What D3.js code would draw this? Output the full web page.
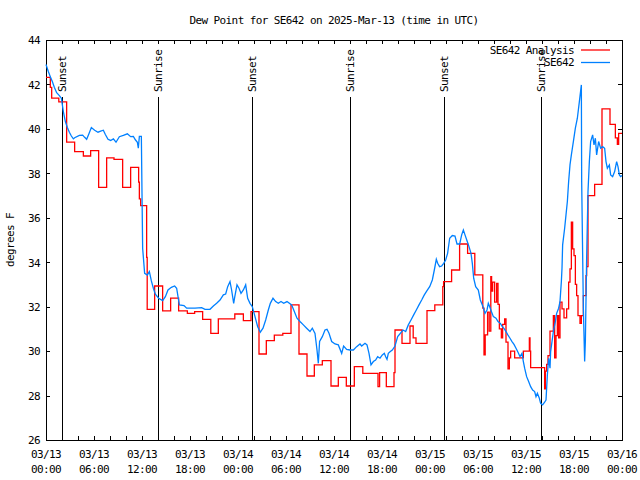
<!DOCTYPE html>
<html>
<head>
<meta charset="utf-8">
<script src="https://cdn.jsdelivr.net/npm/d3@7"></script>
<style>
  html, body { margin: 0; padding: 0; background: #fff; }
  svg text { font-family: "DejaVu Sans Mono", "Liberation Mono", monospace; font-size: 11px; letter-spacing: -0.6px; fill: #000; }
</style>
</head>
<body>
<svg id="chart" width="640" height="480"></svg>
<script>
// ---------------- data ----------------
const titleText = "Dew Point for SE642 on 2025-Mar-13 (time in UTC)";
const yLabelText = "degrees F";
const seriesNames = ["SE642 Analysis", "SE642"];
const startUTC = Date.UTC(2025, 2, 13, 0, 0);
const spanHours = 72;
const yTicks = [26, 28, 30, 32, 34, 36, 38, 40, 42, 44];

// SE642 Analysis (step series): hours since 03/13 00:00, value in F
const redHours = [0, 0.54, 0.71, 1.6, 2.58, 3.58, 4.67, 5.58, 6.58, 7.58, 8.5, 9.58, 10.58, 11.58, 11.67, 11.83,
  12.58, 12.65, 13.58, 14.58, 15.58, 16.58, 17.67, 18.58, 19.58, 20.6, 21.54, 23.6, 24.67, 25.625, 26.625,
  27.54, 28.54, 29.6, 30.625, 31.625, 32.625, 33.54, 34.54, 35.625, 36.54, 37.54, 38.54, 39.6, 41.5, 41.7,
  42.54, 43.5, 43.625, 44.5, 45.5, 45.9, 46.25, 47.625, 48.6, 49.6, 49.7, 50.7, 51.7, 52.7, 53.6, 54.6,
  54.75, 54.9, 55.2, 55.4, 55.6, 55.7, 55.83, 56.08, 56.33, 56.5, 56.67, 56.92, 57.08, 57.33, 57.5, 57.75,
  57.92, 58.08, 58.58, 59.67, 60.42, 60.5, 60.58, 62.33, 62.42, 62.58, 62.75, 63.0, 63.42, 63.58, 63.75,
  63.92, 64.08, 64.25, 64.5, 64.75, 65.08, 65.33, 65.5, 65.67, 65.83, 66.0, 66.17, 66.33, 66.5, 66.75,
  66.92, 67.17, 67.5, 67.58, 67.75, 68.58, 69.5, 70.5, 71.17, 71.42, 71.58, 71.75, 72];
const redValues = [42.32, 41.87, 41.38, 41.22, 39.40, 38.98, 38.78, 39.02, 37.37, 38.70, 38.63, 37.37, 38.27, 37.6, 36.85, 36.55,
  34.22, 31.88, 32.93, 31.81, 32.38, 31.81, 31.7, 31.78, 31.43, 30.8, 31.45, 31.67, 31.37, 31.78, 29.87,
  30.47, 30.72, 30.8, 32.08, 29.87, 28.88, 29.38, 29.57, 28.43, 28.82, 28.43, 29.3, 29.0, 28.4, 29.03,
  28.4, 29.03, 30.95, 30.35, 31.13, 30.6, 30.35, 31.82, 32.08, 32.9, 33.13, 33.65, 34.82, 34.4, 33.43, 31.93,
  29.83, 30.73, 31.75, 30.9, 33.35, 32.7, 33.1, 32.2, 33.05, 32.1, 31.0, 30.6, 31.2, 31.45, 30.4, 29.2,
  29.7, 30.0, 29.7, 30.0, 30.6, 30.0, 29.26, 28.3, 29.1, 29.4, 29.8, 30.9, 31.6, 29.7,
  30.7, 31.6, 30.6, 32.2, 31.9, 31.5, 31.9, 33.1, 33.7, 35.8, 34.6, 34.3, 33.0, 32.5, 31.6,
  31.25, 31.6, 32.5, 33.4, 33.8, 37.0, 37.5, 40.9, 40.2, 39.6, 39.3, 39.8, 39.8];

// SE642 observations
const blueHours = [0, 0.29, 0.54, 0.79, 1.04, 1.33, 1.67, 1.92, 2.17, 2.42, 2.67, 2.92, 3.17, 3.42, 3.58, 4.17,
  4.58, 4.83, 5.08, 5.33, 5.67, 6.08, 6.5, 6.83, 7.17, 7.42, 7.75, 8.08, 8.42, 8.75, 9.17, 9.67, 10.17,
  10.58, 10.92, 11.17, 11.42, 11.54, 11.67, 11.92, 12.0, 12.08, 12.33, 12.67, 12.92, 13.17, 13.42, 13.67,
  14.08, 14.58, 14.92, 15.25, 15.67, 16.08, 16.33, 16.67, 17.25, 17.58, 18.63, 19.46, 19.875, 20.5,
  20.92, 21.33, 21.75, 22.17, 22.46, 22.71, 23.0, 23.2, 23.46, 23.6, 23.875, 24.125, 24.375, 24.67, 24.96,
  25.21, 25.5, 25.79, 26.125, 26.46, 26.79, 27.125, 27.46, 27.79, 28.04, 28.375, 28.71, 29.04, 29.375,
  29.71, 30.125, 30.71, 31.04, 31.375, 31.75, 32.17, 32.58, 33.0, 33.29, 33.625, 33.875, 34.04, 34.2,
  34.54, 34.875, 35.125, 35.375, 35.71, 36.125, 36.54, 36.96, 37.2, 37.58, 38.0, 38.42, 38.83, 39.25,
  39.46, 39.875, 40.125, 40.375, 40.625, 40.92, 41.2, 41.46, 41.75, 42.04, 42.29, 42.46, 42.625, 42.79,
  43.04, 43.29, 43.625, 43.96, 44.29, 44.625, 44.96, 45.29, 45.625, 45.96, 46.29, 46.625, 46.96, 47.29,
  47.625, 47.96, 48.29, 48.54, 48.79, 48.96, 49.2, 49.46, 49.71, 49.96, 50.2, 50.46, 50.79, 51.125,
  51.375, 51.71, 51.96, 52.17, 52.375, 52.625, 52.875, 53.125, 53.29, 53.46, 53.71, 54.04, 54.29, 54.625,
  54.875, 55.125, 55.29, 55.46, 55.71, 55.92, 56.25, 56.5, 56.79, 57.04, 57.29, 57.5, 57.75, 58.0, 58.25,
  58.5, 58.75, 59.0, 59.25, 59.5, 59.67, 59.83, 60.08, 60.33, 60.58, 60.83, 61.08, 61.25, 61.42, 61.67,
  61.83, 62.08, 62.33, 62.5, 62.67, 62.83, 63.0, 63.08, 63.25, 63.42, 63.67, 63.83, 64.08, 64.25, 64.42,
  64.5, 64.58, 64.83, 65.0, 65.17, 65.33, 65.5, 65.67, 65.92, 66.17, 66.42, 66.67, 66.92, 66.96, 67.17,
  67.33, 67.42, 67.58, 67.75, 67.92, 68.08, 68.33, 68.5, 68.67, 68.83, 69.08, 69.33, 69.58, 69.83, 70.0,
  70.17, 70.42, 70.58, 70.83, 71.08, 71.33, 71.5, 71.67, 71.83, 72];
const blueValues = [42.9, 42.58, 42.35, 42.13, 41.87, 41.63, 41.5, 41.38, 40.78, 40.33, 40.06, 39.85, 39.68, 39.55, 39.6, 39.71,
  39.72, 39.62, 39.53, 39.75, 40.06, 39.94, 39.85, 39.9, 39.94, 39.75, 39.53, 39.48, 39.55, 39.4, 39.65, 39.71, 39.78,
  39.65, 39.66, 39.51, 39.4, 39.13, 39.66, 39.66, 37.1, 34.63, 33.5, 33.42, 33.58, 33.16, 32.83, 32.56,
  32.38, 32.27, 32.45, 32.75, 32.87, 32.93, 32.83, 32.08, 32.05, 31.93, 31.93, 31.96, 31.88, 31.88,
  32.03, 32.15, 32.3, 32.53, 32.57, 32.9, 33.13, 32.75, 32.15, 32.45, 32.98, 32.83, 32.6, 32.75, 32.98,
  32.38, 32.15, 32.0, 31.55, 31.1, 30.85, 31.03, 31.4, 31.85, 32.15, 32.38, 32.23, 32.15, 32.23,
  32.15, 32.23, 32.08, 31.78, 31.48, 31.33, 31.18, 31.03, 30.88, 31.03, 30.8, 30.05, 29.45, 30.43,
  30.65, 30.95, 30.98, 30.8, 30.43, 30.32, 30.28, 29.9, 30.23, 30.08, 30.05, 30.05, 30.2, 30.32,
  30.23, 30.35, 30.28, 29.9, 29.38, 29.53, 29.6, 29.75, 29.68, 29.83, 29.9, 29.75, 29.63, 29.9,
  29.98, 30.05, 30.23, 30.65, 30.8, 30.95, 30.88, 31.18, 31.4, 31.63, 31.85, 32.08, 32.3, 32.53,
  32.72, 32.9, 33.2, 33.65, 34.13, 33.95, 33.8, 33.83, 33.95, 34.1, 34.4, 35.08, 35.2, 35.18,
  34.82, 34.82, 35.23, 35.45, 35.23, 34.97, 34.7, 34.4, 33.95, 33.28, 32.9, 32.75, 32.3, 32.0,
  31.7, 31.85, 32.15, 32.0, 31.75, 31.55, 31.48, 31.33, 31.25, 31.1, 31.0, 30.88, 30.72, 30.58, 30.43,
  30.3, 30.13, 29.95, 29.75, 29.9, 29.53, 29.23, 28.85, 28.63, 28.4, 28.25, 28.18, 27.95, 28.1, 27.88,
  27.65, 27.58, 27.7, 27.8, 28.93, 29.68, 29.23, 29.98, 30.43, 30.88, 31.33, 31.7, 31.93, 32.23, 33.13,
  33.73, 34.78, 35.53, 36.13, 36.73, 37.63, 38.38, 38.83, 39.43, 40.03, 40.48, 41.23, 41.98, 37.63, 31.93,
  29.53, 30.43, 34.18, 37.18, 38.53, 39.43, 39.73, 39.28, 39.58, 38.83, 39.43, 39.13, 39.2, 39.13, 38.53,
  38.23, 38.38, 37.93, 37.85, 38.08, 38.53, 38.3, 37.93, 37.85, 37.9];

// Sun events
const sunHours = [2.0, 14.0, 25.77, 38.02, 49.79, 61.92];
const sunLabels = ["Sunset", "Sunrise", "Sunset", "Sunrise", "Sunset", "Sunrise"];
const sunLineTop = 41.43;   // data value where the marker line begins
const sunLabelBase = 41.66; // data value where the rotated label starts

// ---------------- chart ----------------
const L = 46, R = 622, T = 40, B = 440;
const svg = d3.select("#chart");
const toDate = h => new Date(startUTC + h * 3600e3);
const x = d3.scaleUtc().domain([toDate(0), toDate(spanHours)]).range([L, R]);
const y = d3.scaleLinear().domain([26, 44]).range([B, T]);

const red = "#ff0000", blue = "#0080ff";

// title and y label
svg.append("text").attr("x", (L + R) / 2).attr("y", 24).attr("text-anchor", "middle").text(titleText);
svg.append("text").attr("transform", `translate(14,${(T + B) / 2}) rotate(-90)`)
  .attr("text-anchor", "middle").text(yLabelText);

// axes
const minorTicks = d3.utcHour.every(2).range(toDate(0), toDate(spanHours + 0.01));
const majorTicks = d3.utcHour.every(6).range(toDate(0), toDate(spanHours + 0.01));

const gB = svg.append("g").attr("transform", `translate(0,${B})`)
  .call(d3.axisBottom(x).tickValues(minorTicks).tickSizeInner(-4).tickSizeOuter(0).tickFormat(""));
const gT = svg.append("g").attr("transform", `translate(0,${T})`)
  .call(d3.axisTop(x).tickValues(minorTicks).tickSizeInner(-4).tickSizeOuter(0).tickFormat(""));
const gL = svg.append("g").attr("transform", `translate(${L},0)`)
  .call(d3.axisLeft(y).tickValues(yTicks).tickSizeInner(-4).tickSizeOuter(0).tickPadding(6).tickFormat(d3.format("d")));
const gR = svg.append("g").attr("transform", `translate(${R},0)`)
  .call(d3.axisRight(y).tickValues(yTicks).tickSizeInner(-4).tickSizeOuter(0).tickFormat(""));
[gB, gT, gL, gR].forEach(g => {
  g.select(".domain").remove();
  g.selectAll("line").attr("stroke", "#000").attr("shape-rendering", "crispEdges");
  g.selectAll("text").attr("font-family", null).attr("font-size", null).attr("fill", "#000");
});
gL.selectAll("text").attr("dy", "0.35em");

// x labels (two lines)
const fmtD = d3.utcFormat("%m/%d"), fmtH = d3.utcFormat("%H:%M");
const xl = svg.append("g");
majorTicks.forEach(d => {
  const t = xl.append("text").attr("text-anchor", "middle").attr("transform", `translate(${x(d)},0)`);
  t.append("tspan").attr("x", 0).attr("y", 458).text(fmtD(d));
  t.append("tspan").attr("x", 0).attr("y", 473).text(fmtH(d));
});

// frame
svg.append("rect").attr("x", L).attr("y", T).attr("width", R - L).attr("height", B - T)
  .attr("fill", "none").attr("stroke", "#000").attr("shape-rendering", "crispEdges");

// sun markers
sunHours.forEach((h, i) => {
  const xx = x(toDate(h));
  svg.append("line").attr("x1", xx).attr("x2", xx).attr("y1", y(sunLineTop)).attr("y2", B)
    .attr("stroke", "#000").attr("shape-rendering", "crispEdges");
  svg.append("text").attr("transform", `translate(${xx + 4},${y(sunLabelBase)}) rotate(-90)`)
    .attr("text-anchor", "start").text(sunLabels[i]);
});

// series
const redData = redHours.map((h, i) => [toDate(h), redValues[i]]);
const blueData = blueHours.map((h, i) => [toDate(h), blueValues[i]]);

svg.append("path").datum(redData)
  .attr("d", d3.line().x(d => x(d[0])).y(d => y(d[1])).curve(d3.curveStepAfter))
  .attr("fill", "none").attr("stroke", red).attr("stroke-width", 1.3);
svg.append("path").datum(blueData)
  .attr("d", d3.line().x(d => x(d[0])).y(d => y(d[1])))
  .attr("fill", "none").attr("stroke", blue).attr("stroke-width", 1.3);

// legend
const leg = svg.append("g");
[[seriesNames[0], red, 50], [seriesNames[1], blue, 62.5]].forEach(([name, c, yy]) => {
  leg.append("text").attr("x", 574).attr("y", yy).attr("dy", "0.35em").attr("text-anchor", "end").text(name);
  leg.append("line").attr("x1", 581).attr("x2", 610).attr("y1", yy).attr("y2", yy)
    .attr("stroke", c).attr("stroke-width", 1.3);
});
</script>
</body>
</html>
